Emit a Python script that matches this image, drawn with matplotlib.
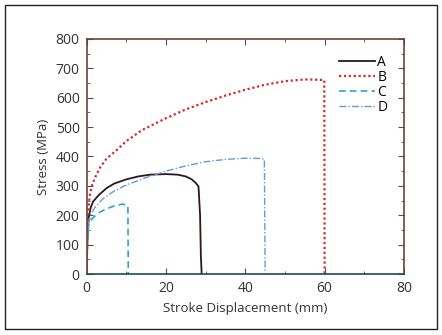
import matplotlib
matplotlib.use("Agg")
import matplotlib.pyplot as plt
from matplotlib.patches import Rectangle
from matplotlib.ticker import MultipleLocator

plt.rcParams['font.family'] = ['Open Sans', 'DejaVu Sans']

# Stroke displacement (mm) and stress (MPa) for each specimen
a_x = [0, 0.2, 0.5, 1.0, 1.6, 3, 5, 7, 10, 13, 16, 20, 23, 25, 26.5, 27.5, 28.2, 28.6, 28.8, 29.0]
a_y = [0, 120, 190, 225, 246, 268, 292, 308, 322, 332, 338, 340, 338, 332, 322, 310, 298, 200, 60, 0]

b_x = [0, 0.2, 0.5, 0.8, 1.2, 2, 3.5, 5, 7.6, 10, 14, 20, 25, 30, 35, 40, 45, 50, 55, 58, 59.9, 60.0]
b_y = [0, 150, 230, 268, 295, 325, 365, 392, 422, 452, 490, 530, 560, 585, 607, 627, 644, 656, 662, 661, 660, 0]

c_x = [0, 0.2, 0.5, 1.0, 1.5, 3, 5, 7, 9, 10.2, 10.4, 10.5]
c_y = [0, 110, 165, 180, 190, 208, 222, 232, 238, 234, 232, 0]

d_x = [0, 0.2, 0.5, 1.0, 2, 4, 7, 10, 15, 20, 25, 30, 35, 40, 44, 44.8, 45.0]
d_y = [0, 120, 175, 200, 225, 255, 283, 303, 328, 350, 368, 382, 390, 394, 393, 390, 0]

series_labels = ['A', 'B', 'C', 'D']
series_colors = ['#2a1a18', '#d42a2a', '#22a8c8', '#6a98d8']
series_styles = ['-', (0, (1, 1.2)), (0, (4, 2.5)), (0, (5, 1.5, 1, 1.5))]
series_widths = [1.3, 1.6, 1.2, 1.0]

fig = plt.figure(figsize=(4.42, 3.35), dpi=100)
ax = fig.add_axes([0.196, 0.182, 0.718, 0.702])

for xs, ys, lab, col, ls, lw in zip([a_x, b_x, c_x, d_x], [a_y, b_y, c_y, d_y],
                                    series_labels, series_colors, series_styles, series_widths):
    ax.plot(xs, ys, color=col, linestyle=ls, linewidth=lw, label=lab)

ax.set_xlim(0, 80)
ax.set_ylim(0, 800)
ax.xaxis.set_major_locator(MultipleLocator(20))
ax.xaxis.set_minor_locator(MultipleLocator(10))
ax.yaxis.set_major_locator(MultipleLocator(100))
ax.yaxis.set_minor_locator(MultipleLocator(50))
ax.tick_params(which='both', direction='in', top=True, right=True,
               color='#2a5a70', labelsize=10, labelcolor='#333333', pad=5)
ax.tick_params(which='major', length=4)
ax.tick_params(which='minor', length=2.5)

for side in ['left', 'right', 'top']:
    ax.spines[side].set_color('#6b4434')
ax.spines['bottom'].set_color('#1d4a5a')
for sp in ax.spines.values():
    sp.set_linewidth(1.2)

ax.set_xlabel('Stroke Displacement (mm)', fontsize=9.5, color='#333333', labelpad=4)
ax.set_ylabel('Stress (MPa)', fontsize=9.5, color='#333333', labelpad=4)

ax.legend(loc='upper right', bbox_to_anchor=(0.97, 0.96), frameon=False,
          fontsize=10, handlelength=2.6, handletextpad=0.15, labelspacing=0.0,
          borderpad=0)

# thin frame around the whole figure
fig.patches.append(Rectangle((5 / 442, 6 / 335), 432 / 442, 324 / 335,
                             transform=fig.transFigure, fill=False,
                             edgecolor='#222222', linewidth=1.0))

fig.savefig('out.png', dpi=100)
